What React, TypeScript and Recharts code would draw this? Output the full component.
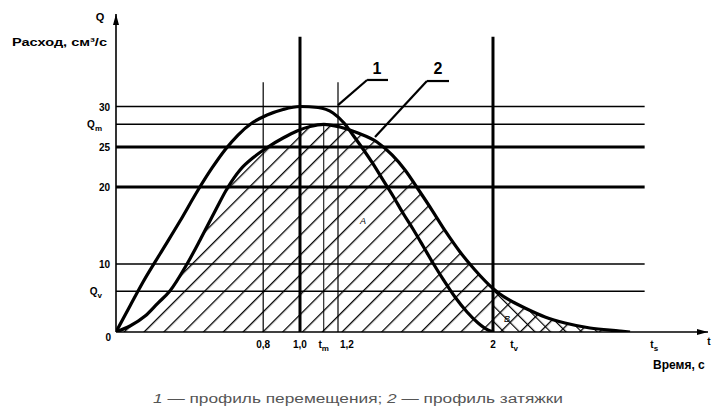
import React from 'react';
import { ComposedChart, Area, Line, XAxis, YAxis, ReferenceLine } from 'recharts';

// ---- data ----
const QM = 27.8; // Q_m
const QV = 6; // Q_v
const TM = 1.125; // t_m
const TV = 2.11; // t_v
const TS = 2.84; // t_s
const T_END = 3.12;
const Q_END = 41.4;

// curve 1 — профиль перемещения
const curve1T = [0, 0.076, 0.147, 0.239, 0.348, 0.446, 0.522, 0.592, 0.663, 0.739, 0.821, 0.908, 1.0, 1.095, 1.174, 1.231, 1.277, 1.329, 1.381, 1.432, 1.484, 1.535, 1.587, 1.639, 1.69, 1.742, 1.804, 1.866, 1.923, 1.974, 2.005];
const curve1Q = [0, 3.82, 7.35, 11.3, 15.58, 19.61, 22.38, 24.63, 26.48, 27.96, 28.95, 29.63, 30.0, 29.88, 29.2, 27.96, 26.48, 24.75, 22.88, 20.88, 18.83, 16.62, 14.55, 12.34, 10.13, 7.79, 5.15, 2.94, 1.32, 0.29, 0];

// curve 2 — профиль затяжки
const curve2T = [0, 0.076, 0.158, 0.228, 0.293, 0.386, 0.457, 0.533, 0.609, 0.674, 0.75, 0.826, 0.908, 0.984, 1.053, 1.125, 1.21, 1.303, 1.401, 1.479, 1.546, 1.613, 1.685, 1.757, 1.83, 1.907, 2.0, 2.036, 2.104, 2.177, 2.271, 2.375, 2.505, 2.661, 2.714];
const curve2Q = [0, 0.88, 2.35, 4.26, 6.03, 10.0, 13.12, 16.62, 20.0, 22.13, 23.75, 25.0, 26.11, 26.98, 27.53, 27.8, 27.47, 26.73, 25.62, 24.0, 22.13, 19.74, 17.01, 14.16, 11.56, 9.12, 6.4, 5.59, 4.41, 3.38, 2.21, 1.32, 0.59, 0.15, 0];

const yTicks = [0, QV, 10, 20, 25, QM, 30];
const yTickLabels: [string, string][] = [['0', ''], ['Q', 'v'], ['10', ''], ['20', ''], ['25', ''], ['Q', 'm'], ['30', '']];
const xTicks = [0.8, 1.0, TM, 1.2, 2, TV, TS, T_END];
const xTickLabels: [string, string][] = [['0,8', ''], ['1,0', ''], ['t', 'm'], ['1,2', ''], ['2', ''], ['t', 'v'], ['t', 's'], ['t', '']];

const gridQ = [30, QM, 25, 20, 10, QV];
const gridEndT = 2.79;
const tallT = [1.0, 2.0];
const tallTop = 38.6;
const shortT = [0.8, 1.2];
const shortTop = 33;

const data1 = curve1T.map((t, i) => ({ t, q: curve1Q[i] }));
const data2 = curve2T.map((t, i) => ({ t, q: curve2Q[i] }));
const dataB = data2.filter((d) => d.t >= 2);

// ---- schematic (non-uniform) scale, as in the drawing ----
function polyScale(kv: number[], kf: number[]): any {
  let dom = [kv[0], kv[kv.length - 1]];
  let rng = [0, 1];
  const frac = (v: number) => {
    let i = 0;
    while (i < kv.length - 2 && v > kv[i + 1]) i++;
    const a = kv[i], b = kv[i + 1];
    return kf[i] + ((v - a) / (b - a)) * (kf[i + 1] - kf[i]);
  };
  const unfrac = (f: number) => {
    let i = 0;
    while (i < kf.length - 2 && f > kf[i + 1]) i++;
    return kv[i] + ((f - kf[i]) / (kf[i + 1] - kf[i])) * (kv[i + 1] - kv[i]);
  };
  const s: any = (v: number) => rng[0] + frac(Number(v)) * (rng[1] - rng[0]);
  s.domain = function (d?: number[]) {
    if (d === undefined) return dom.slice();
    dom = d.slice();
    return s;
  };
  s.range = function (r?: number[]) {
    if (r === undefined) return rng.slice();
    rng = r.slice();
    return s;
  };
  s.copy = () => polyScale(kv, kf).domain(dom).range(rng);
  s.ticks = () => kv.slice();
  s.tickFormat = () => (v: number) => String(v);
  s.invert = (px: number) => unfrac((px - rng[0]) / (rng[1] - rng[0]));
  s.nice = () => s;
  s.clamp = () => s;
  return s;
}

const xScale = polyScale([0, 1, 1.2, 2, T_END], [0, 0.3108, 0.375, 0.6368, 1]);
const yScale = polyScale([0, 10, 20, 25, 30, Q_END], [0, 0.2138, 0.456, 0.5818, 0.7091, 1]);

const FONT = "'Liberation Sans', Arial, sans-serif";

const XTick = (props: any) => {
  const { x, y, payload } = props;
  const i = xTicks.indexOf(payload.value);
  if (i < 0) return null;
  const [main, sub] = xTickLabels[i];
  const isLast = payload.value === T_END;
  const anchor = payload.value === 1.2 ? 'start' : 'middle';
  const dx = payload.value === 1.2 ? 2 : isLast ? 1 : 0;
  return (
    <text x={x + dx} y={y + (isLast ? 13 : 16)} textAnchor={anchor} fontFamily={FONT} fontWeight="bold" fontSize={10} fill="#000">
      {main}
      {sub ? <tspan dy={3} fontSize={8}>{sub}</tspan> : null}
    </text>
  );
};

const YTick = (props: any) => {
  const { x, y, payload } = props;
  const i = yTicks.indexOf(payload.value);
  if (i < 0) return null;
  const [main, sub] = yTickLabels[i];
  const isZero = payload.value === 0;
  return (
    <text x={x - (isZero ? 5 : 6) - (sub ? 8 : 0)} y={y + (isZero ? 9 : 4)} textAnchor="end" fontFamily={FONT} fontWeight="bold" fontSize={10} fill="#000">
      {main}
      {sub ? <tspan dy={3} fontSize={8}>{sub}</tspan> : null}
    </text>
  );
};

export default function App() {
  return (
    <div style={{ position: 'absolute', left: 0, top: 0, width: 714, height: 413, background: '#fff' }}>
      <ComposedChart width={714} height={413} margin={{ top: 14, right: 6, bottom: 51, left: 56 }}>
        <defs>
          <pattern id="hatchA" patternUnits="userSpaceOnUse" width={14} height={14} patternTransform="rotate(45)">
            <line x1={0} y1={0} x2={0} y2={14} stroke="#000" strokeWidth={2.6} />
          </pattern>
          <pattern id="hatchB" patternUnits="userSpaceOnUse" width={11} height={11} patternTransform="rotate(-45)">
            <line x1={0} y1={0} x2={0} y2={11} stroke="#000" strokeWidth={2.4} />
          </pattern>
          <marker id="arr" viewBox="0 0 10 10" refX={10} refY={5} markerWidth={11} markerHeight={6} markerUnits="userSpaceOnUse" preserveAspectRatio="none" orient="auto-start-reverse">
            <path d="M0,0 L10,5 L0,10 z" fill="#000" />
          </marker>
        </defs>
        <XAxis
          type="number"
          dataKey="t"
          domain={[0, T_END]}
          scale={xScale}
          allowDataOverflow
          ticks={xTicks}
          interval={0}
          tick={<XTick />}
          tickLine={false}
          tickSize={0}
          tickMargin={0}
          height={30}
          axisLine={{ stroke: '#000', strokeWidth: 1.6, markerEnd: 'url(#arr)' }}
        />
        <YAxis
          type="number"
          dataKey="q"
          domain={[0, Q_END]}
          scale={yScale}
          allowDataOverflow
          ticks={yTicks}
          interval={0}
          tick={<YTick />}
          tickLine={false}
          tickSize={0}
          tickMargin={0}
          width={60}
          axisLine={{ stroke: '#000', strokeWidth: 1.6, markerStart: 'url(#arr)' }}
        />
        <Area data={data2} dataKey="q" type="monotone" stroke="none" fill="url(#hatchA)" fillOpacity={1} isAnimationActive={false} dot={false} activeDot={false} />
        <Area data={dataB} dataKey="q" type="monotone" stroke="none" fill="url(#hatchB)" fillOpacity={1} isAnimationActive={false} dot={false} activeDot={false} />
        {gridQ.map((q) => (
          <ReferenceLine key={'h' + q} segment={[{ x: 0, y: q }, { x: gridEndT, y: q }]} stroke="#000" strokeWidth={q === 25 || q === 20 ? 3 : 1.4} ifOverflow="visible" />
        ))}
        {tallT.map((t) => (
          <ReferenceLine key={'v' + t} segment={[{ x: t, y: 0 }, { x: t, y: tallTop }]} stroke="#000" strokeWidth={3} ifOverflow="visible" />
        ))}
        {shortT.map((t) => (
          <ReferenceLine key={'s' + t} segment={[{ x: t, y: 0 }, { x: t, y: shortTop }]} stroke="#000" strokeWidth={1.2} ifOverflow="visible" />
        ))}
        <ReferenceLine segment={[{ x: TM, y: 0 }, { x: TM, y: QM }]} stroke="#000" strokeWidth={1} ifOverflow="visible" />
        {/* leader lines for labels 1 and 2 */}
        <ReferenceLine segment={[{ x: 1.2, y: 30.18 }, { x: 1.35, y: 33.27 }]} stroke="#000" strokeWidth={2.2} ifOverflow="visible" />
        <ReferenceLine segment={[{ x: 1.35, y: 33.27 }, { x: 1.458, y: 33.27 }]} stroke="#000" strokeWidth={2.2} ifOverflow="visible" />
        <ReferenceLine segment={[{ x: 1.391, y: 26.23 }, { x: 1.659, y: 33.14 }]} stroke="#000" strokeWidth={2.2} ifOverflow="visible" />
        <ReferenceLine segment={[{ x: 1.659, y: 33.14 }, { x: 1.773, y: 33.14 }]} stroke="#000" strokeWidth={2.2} ifOverflow="visible" />
        <Line data={data1} dataKey="q" type="monotone" stroke="#000" strokeWidth={3.2} dot={false} activeDot={false} isAnimationActive={false} />
        <Area data={data2} dataKey="q" type="monotone" stroke="#000" strokeWidth={3.2} fill="none" isAnimationActive={false} dot={false} activeDot={false} />
        <text x={377} y={74} textAnchor="middle" fontFamily={FONT} fontWeight="bold" fontSize={16} fill="#000">1</text>
        <text x={438} y={74} textAnchor="middle" fontFamily={FONT} fontWeight="bold" fontSize={16} fill="#000">2</text>
        <text x={363} y={224} textAnchor="middle" fontFamily={FONT} fontStyle="italic" fontSize={9} fill="#000">A</text>
        <text x={507} y={322} textAnchor="middle" fontFamily={FONT} fontStyle="italic" fontSize={9} fill="#000">B</text>
        <text x={100} y={21} textAnchor="middle" fontFamily={FONT} fontWeight="bold" fontSize={11} fill="#000">Q</text>
        <text x={12} y={46} fontFamily={FONT} fontWeight="bold" fontSize={11} fill="#000" textLength={95} lengthAdjust="spacingAndGlyphs">Расход, см³/с</text>
        <text x={653} y={369} fontFamily={FONT} fontWeight="bold" fontSize={12} fill="#000">Время, с</text>
        <text x={153} y={403} fontFamily={FONT} fontSize={12} fill="#555" textLength={410} lengthAdjust="spacingAndGlyphs">
          <tspan fontStyle="italic">1</tspan> — профиль перемещения; <tspan fontStyle="italic">2</tspan> — профиль затяжки
        </text>
      </ComposedChart>
    </div>
  );
}
